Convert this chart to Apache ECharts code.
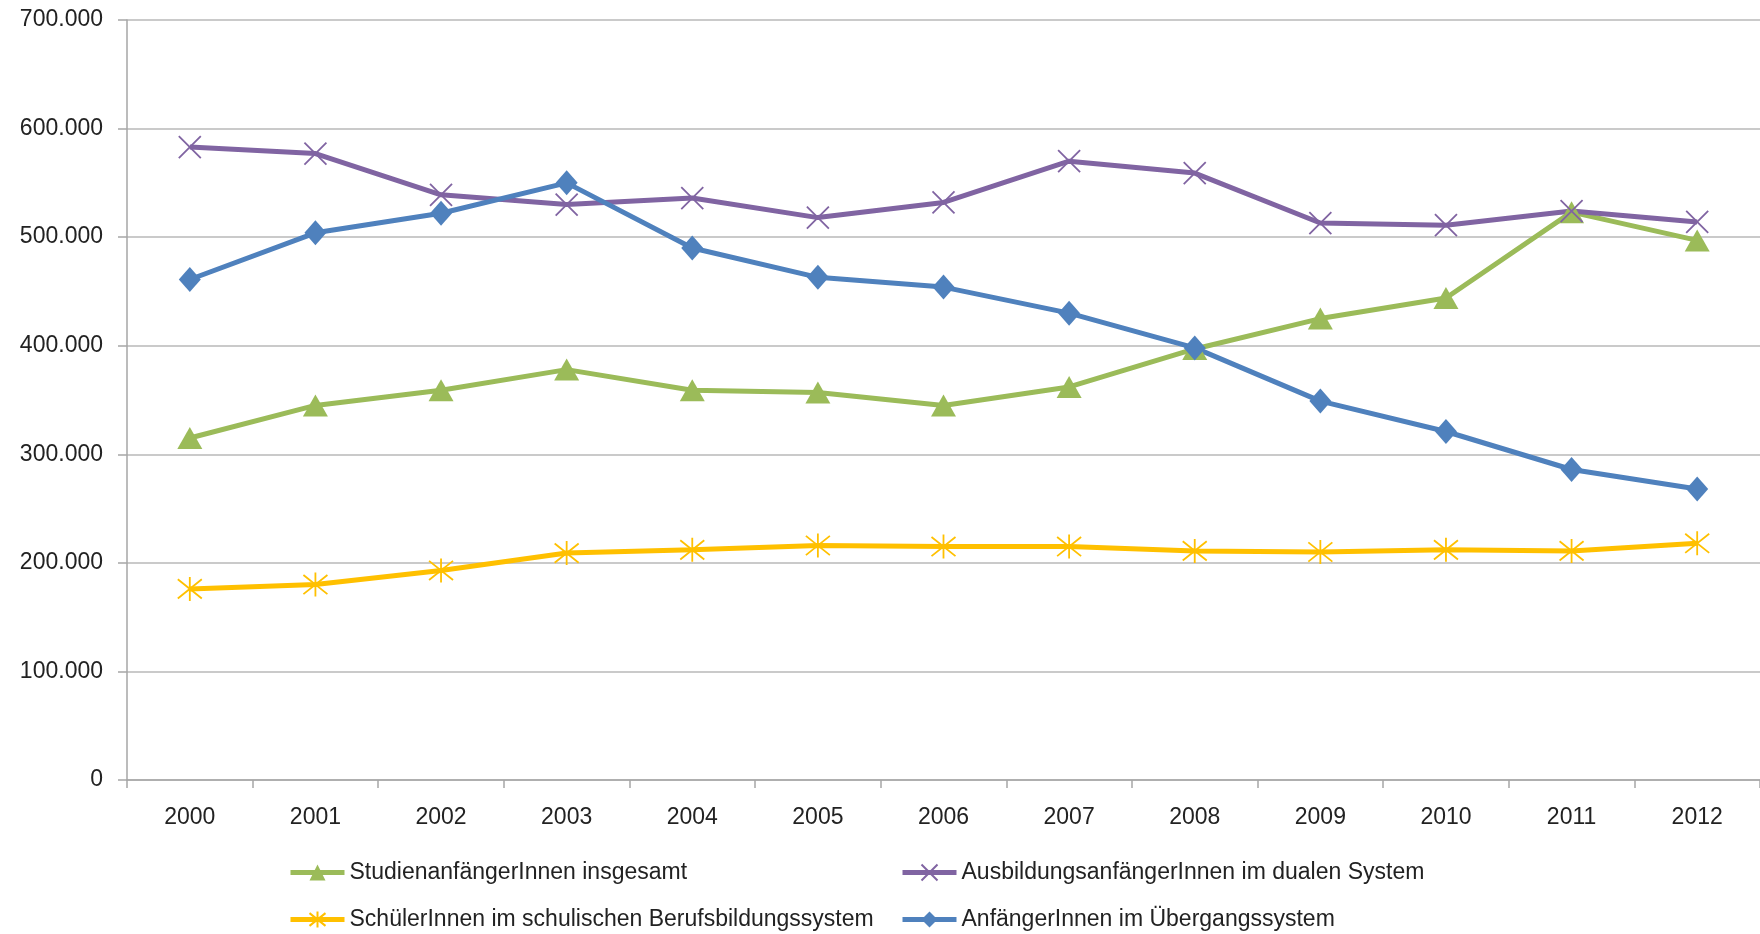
<!DOCTYPE html>
<html>
<head>
<meta charset="utf-8">
<script src="https://cdn.jsdelivr.net/npm/echarts@6/dist/echarts.min.js"></script>
<style>
html,body{margin:0;padding:0;background:#fff;}
#chart{width:1760px;height:934px;}
</style>
</head>
<body>
<div id="chart"></div>
<script>
const years = ['2000','2001','2002','2003','2004','2005','2006','2007','2008','2009','2010','2011','2012'];
const studienanfaenger = [315000,345000,359000,378000,359000,357000,345000,362000,397000,425000,444000,523000,497000];
const ausbildung = [583000,577000,539000,530000,536000,518000,532000,570000,559000,513000,511000,524000,514000];
const schueler = [176000,180000,193000,209000,212000,216000,215000,215000,211000,210000,212000,211000,218000];
const uebergang = [461000,504000,522000,550000,490000,463000,454000,430000,398000,349000,321000,286000,268000];
const names = ['StudienanfängerInnen insgesamt','AusbildungsanfängerInnen im dualen System','SchülerInnen im schulischen Berufsbildungssystem','AnfängerInnen im Übergangssystem'];

const GREEN='#9BBB59', PURPLE='#8064A2', YELLOW='#FFC000', BLUE='#4F81BD';
const FONT='Liberation Sans';
const xPath='path://M0 0L20 20M20 0L0 20';
const starPath='path://M2 2L18 18M18 2L2 18M10 0L10 20';

function legendAt(left, top, name){
  return {left:left, top:top, data:[name], itemWidth:54, itemHeight:20,
    lineStyle:{width:5},
    textStyle:{fontFamily:FONT,fontSize:23,color:'#222'}};
}
const chart = echarts.init(document.getElementById('chart'));
chart.setOption({
  animation:false,
  backgroundColor:'#fff',
  grid:{left:127, top:20, width:1640, height:760},
  legend:[
    legendAt(283, 856, names[0]),
    legendAt(283, 903, names[2]),
    legendAt(895, 856, names[1]),
    legendAt(895, 903, names[3])
  ],
  xAxis:{
    type:'category', data:years, boundaryGap:true,
    axisLine:{lineStyle:{color:'#a6a6a6',width:1.5}},
    axisTick:{show:true,length:8,lineStyle:{color:'#a6a6a6',width:1.5}},
    axisLabel:{fontFamily:FONT,fontSize:23,color:'#222',margin:26}
  },
  yAxis:{
    type:'value', min:0, max:700000, interval:100000,
    axisLine:{show:true,lineStyle:{color:'#a6a6a6',width:1.5}},
    axisTick:{show:true,length:9,lineStyle:{color:'#a6a6a6',width:1.5}},
    splitLine:{lineStyle:{color:'#b8b8b8',width:1.5}},
    axisLabel:{fontFamily:FONT,fontSize:23,color:'#222',margin:24,
      formatter:v=>v===0?'0':(v/1000).toFixed(0)+'.000'}
  },
  series:[
    {name:names[0], type:'line', data:studienanfaenger, symbol:'triangle', symbolSize:[25,22],
     lineStyle:{color:GREEN,width:5}, itemStyle:{color:GREEN}},
    {name:names[1], type:'line', data:ausbildung, symbol:xPath, symbolSize:22,
     lineStyle:{color:PURPLE,width:5}, itemStyle:{color:PURPLE,borderColor:PURPLE,borderWidth:1.8}},
    {name:names[2], type:'line', data:schueler, symbol:starPath, symbolSize:24,
     lineStyle:{color:YELLOW,width:5}, itemStyle:{color:YELLOW,borderColor:YELLOW,borderWidth:1.8}},
    {name:names[3], type:'line', data:uebergang, symbol:'diamond', symbolSize:[22,25],
     lineStyle:{color:BLUE,width:5}, itemStyle:{color:BLUE}}
  ]
});
</script>
</body>
</html>
